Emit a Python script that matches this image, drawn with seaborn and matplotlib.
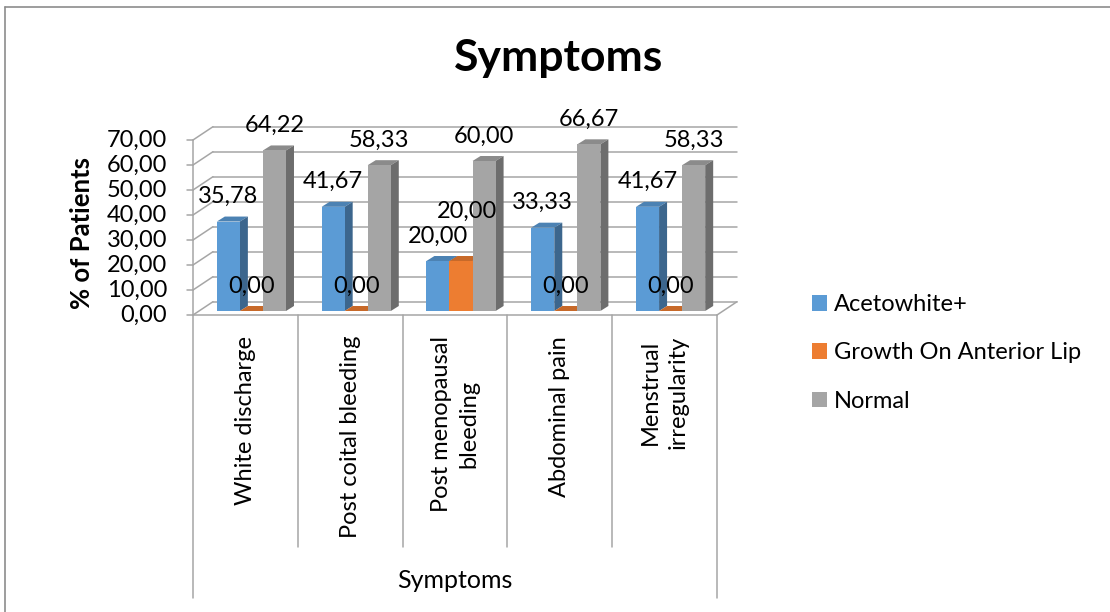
import numpy as np
import pandas as pd
import matplotlib
matplotlib.use("Agg")
import matplotlib.pyplot as plt
import seaborn as sns
from matplotlib.patches import Polygon
from matplotlib.lines import Line2D
from matplotlib.colors import to_rgb

# ---- data -------------------------------------------------------------
symptoms = ["White discharge", "Post coital bleeding", "Post menopausal\nbleeding",
            "Abdominal pain", "Menstrual\nirregularity"]
series = ["Acetowhite+", "Growth On Anterior Lip", "Normal"]
acetowhite = [35.78, 41.67, 20.00, 33.33, 41.67]
growth = [0.00, 0.00, 20.00, 0.00, 0.00]
normal = [64.22, 58.33, 60.00, 66.67, 58.33]
y_ticks = [0, 10, 20, 30, 40, 50, 60, 70]
colors = ["#5B9BD5", "#ED7D31", "#A5A5A5"]

records = []
for name, vals in zip(series, [acetowhite, growth, normal]):
    for s, v in zip(symptoms, vals):
        records.append({"Symptom": s, "Series": name, "Percent": v})
df = pd.DataFrame(records)

# ---- figure -----------------------------------------------------------
W, H = 1110, 612
FS = 17
sns.set_theme(style="white")
plt.rcParams["font.family"] = ["Lato", "DejaVu Sans"]
plt.rcParams["text.color"] = "#000000"

fig = plt.figure(figsize=(W / 100, H / 100), dpi=100)
fig.patch.set_facecolor("white")


def fx(px):
    return px / W


def fy(py):
    return 1 - py / H


# plane in which the bars stand
left, right, base, top = 199, 723, 311, 136
ax = fig.add_axes([fx(left), fy(base), (right - left) / W, (base - top) / H])
sx = (right - left) / 5.0      # pixels per category
sy = (base - top) / 70.0       # pixels per percent


def d(dx_px, dy_px):
    """pixel offset (right, down) -> data offset"""
    return dx_px / sx, -dy_px / sy


fdx, fdy = d(-6, 4)       # front plane of the 3-D box
bdx, bdy = d(14, -9.3)    # back wall
ddx, ddy = d(8, -5)       # depth of one bar

sns.barplot(data=df, x="Symptom", y="Percent", hue="Series", order=symptoms,
            hue_order=series, palette=colors, width=0.66, saturation=1,
            errorbar=None, linewidth=0, ax=ax)
handles = ax.get_legend().legend_handles
ax.get_legend().remove()
ax.set_xlim(-0.5, 4.5)
ax.set_ylim(0, 70)
ax.axis("off")

line_c = "#A6A6A6"
lw = 1.1
x_l, x_r = -0.5, 4.5

# back wall gridlines and left side wall
for v in y_ticks:
    ax.plot([x_l + bdx, x_r + bdx], [v + bdy, v + bdy], color=line_c, lw=lw,
            clip_on=False, zorder=1)
    ax.plot([x_l + fdx, x_l + bdx], [v + fdy, v + bdy], color=line_c, lw=lw,
            clip_on=False, zorder=1)
    ax.plot([x_l + fdx - 6 / sx, x_l + fdx], [v + fdy, v + fdy], color=line_c,
            lw=lw, clip_on=False, zorder=1)
    ax.text(x_l + (167 - left) / sx, v + fdy, f"{v:.2f}".replace(".", ","),
            ha="right", va="center", fontsize=FS, clip_on=False)

# floor
ax.plot([x_l + fdx, x_r + fdx], [fdy, fdy], color=line_c, lw=lw, clip_on=False, zorder=1)
ax.plot([x_r + fdx, x_r + bdx], [fdy, bdy], color=line_c, lw=lw, clip_on=False, zorder=1)

# category box under the plot
y_inner = (base - 547) / sy
y_outer = (base - 598) / sy
ax.plot([x_l + fdx, x_l + fdx], [70 + fdy, y_outer], color=line_c, lw=lw, clip_on=False, zorder=1)
ax.plot([x_r + fdx, x_r + fdx], [fdy, y_outer], color=line_c, lw=lw, clip_on=False, zorder=1)
for k in range(1, 5):
    ax.plot([x_l + k + fdx] * 2, [fdy, y_inner], color=line_c, lw=lw, clip_on=False, zorder=1)
for i, s in enumerate(symptoms):
    ax.text(i + fdx, (base - 336) / sy, s, rotation=90, ha="center", va="top",
            multialignment="center", linespacing=1.4, fontsize=FS, clip_on=False)
ax.text(2 + fdx, (base - 581) / sy, "Symptoms", ha="center", va="center",
        fontsize=18, clip_on=False)


def shade(c, f):
    return tuple(np.array(to_rgb(c)) * f)


# top and side faces of every column
for cont, col in zip(ax.containers, colors):
    for bar in cont:
        x0, w, h = bar.get_x(), bar.get_width(), bar.get_height()
        z = 3 + (x0 + 1) * 0.1
        bar.set_zorder(z + 0.002)
        ax.add_patch(Polygon([(x0, h), (x0 + w, h), (x0 + w + ddx, h + ddy), (x0 + ddx, h + ddy)],
                             closed=True, fc=shade(col, 0.84), ec="none", zorder=z, clip_on=False))
        ax.add_patch(Polygon([(x0 + w, 0), (x0 + w + ddx, ddy), (x0 + w + ddx, h + ddy), (x0 + w, h)],
                             closed=True, fc=shade(col, 0.66), ec="none", zorder=z, clip_on=False))

# value labels
placed = {}
for cont in ax.containers:
    for i, bar in enumerate(cont):
        h = bar.get_height()
        cx = bar.get_x() + bar.get_width() / 2
        ly = h + 25 / sy
        for px_, py_ in placed.get(i, []):
            if abs(cx - px_) < 0.5 and abs(ly - py_) < 20 / sy:
                ly = py_ + 25 / sy
                cx += 6 / sx
        placed.setdefault(i, []).append((cx, ly))
        ax.text(cx, ly, f"{h:.2f}".replace(".", ","), ha="center", va="center",
                fontsize=FS, zorder=10, clip_on=False)

# legend
ax.legend(handles, series, loc="center left", bbox_to_anchor=(fx(812), fy(353)),
          bbox_transform=fig.transFigure, frameon=False, fontsize=FS,
          handlelength=0.64, handleheight=0.64, handletextpad=0.3,
          labelspacing=1.15, borderpad=0, borderaxespad=0)

# titles
fig.text(fx(559), fy(58), "Symptoms", ha="center", va="center", fontsize=32,
         fontweight="bold")
fig.text(fx(82), fy(233), "% of Patients", rotation=90, ha="center", va="center",
         fontsize=18.5, fontweight="bold")

# chart border
fig.add_artist(Line2D([fx(4.5), fx(4.5)], [fy(6.5), 0], color="#8C8C8C", lw=1.2,
                      transform=fig.transFigure))
fig.add_artist(Line2D([fx(4.5), 1], [fy(6.5), fy(6.5)], color="#8C8C8C", lw=1.2,
                      transform=fig.transFigure))

fig.savefig("out.png", dpi=100, facecolor="white")
